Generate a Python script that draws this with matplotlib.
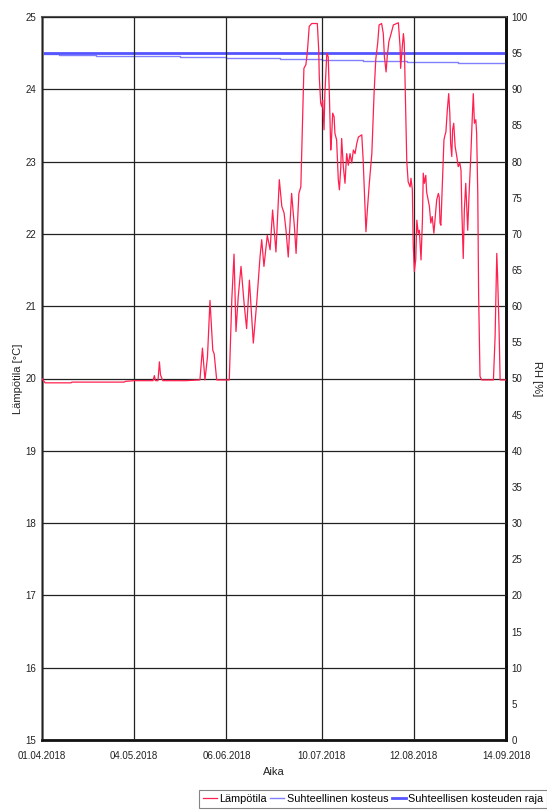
import matplotlib
matplotlib.use("Agg")
import matplotlib.pyplot as plt
import numpy as np
from datetime import datetime, timedelta

# Measurement period start
START = datetime(2018, 4, 1)

# Temperature samples: day offset from START and value in °C
temp_days = [
    0.0, 1.1, 10.4, 10.7, 29.4, 29.8, 32.9, 39.7, 40.2, 40.6, 41.5, 42.0, 42.4, 43.2,
    51.5, 56.5, 57.4, 58.3, 59.2, 60.1, 61.1, 61.6, 62.5, 67.0, 67.9, 68.7, 69.4, 70.2,
    71.2, 72.3, 73.2, 74.2, 74.8, 75.6, 76.8, 78.0, 78.6, 79.4, 80.6, 81.6, 82.5, 83.7,
    84.9, 85.8, 86.6, 87.3, 88.1, 89.3, 90.3, 90.9, 91.9, 92.6, 93.3, 93.7, 94.4, 94.9,
    95.6, 96.5, 98.5, 99.0, 99.2, 99.7, 100.1, 100.4, 100.9, 101.2, 101.9, 102.4, 102.8,
    103.3, 103.6, 104.0, 104.5, 104.8, 105.4, 106.0, 106.4, 106.9, 107.2, 107.8, 108.4,
    109.0, 109.6, 110.2, 110.8, 111.4, 112.0, 112.6, 113.2, 114.4, 114.9, 115.6, 115.9,
    116.4, 117.1, 118.0, 118.8, 119.4, 120.1, 120.6, 121.5, 122.1, 122.5, 123.1, 123.5,
    124.1, 124.9, 125.7, 127.5, 128.1, 128.3, 128.9, 129.3, 129.6, 130.0, 130.5, 131.0,
    131.7, 132.0, 132.5, 132.8, 133.2, 133.7, 134.1, 134.6, 135.0, 135.6, 136.1, 136.4,
    136.8, 137.3, 137.6, 138.6, 139.1, 139.6, 140.2, 140.6, 141.2, 141.8, 142.1, 142.4,
    142.7, 143.4, 143.8, 144.2, 144.5, 145.0, 145.5, 145.9, 146.2, 146.6, 146.9, 147.3,
    147.8, 148.4, 148.9, 149.5, 149.9, 150.2, 150.7, 151.1, 151.6, 151.9, 152.3, 152.8,
    153.4, 153.9, 154.3, 154.7, 155.2, 155.5, 155.9, 156.2, 156.7, 157.3, 161.5, 162.1,
    162.7, 163.0, 163.5, 163.9, 166.0,
]
temp_values = [
    20.00, 19.94, 19.94, 19.95, 19.95, 19.96, 19.97, 19.97, 20.04, 19.97, 19.97, 20.23, 20.05, 19.97,
    19.97, 19.98, 20.42, 19.98, 20.30, 21.08, 20.39, 20.34, 19.98, 19.98, 21.09, 21.72, 20.65, 21.13,
    21.55, 21.04, 20.69, 21.36, 20.99, 20.49, 21.04, 21.68, 21.92, 21.55, 21.98, 21.78, 22.33, 21.75,
    22.75, 22.38, 22.29, 22.05, 21.68, 22.56, 22.10, 21.73, 22.56, 22.65, 23.71, 24.29, 24.34, 24.50,
    24.87, 24.91, 24.91, 24.54, 24.17, 23.81, 23.76, 23.85, 23.44, 23.94, 24.50, 24.45, 23.94,
    23.16, 23.34, 23.67, 23.62, 23.39, 23.30, 22.75, 22.61, 22.93, 23.32, 22.93, 22.70,
    23.11, 22.95, 23.11, 22.98, 23.16, 23.11, 23.25, 23.34, 23.37, 23.02, 22.33, 22.03,
    22.33, 22.70, 23.11, 23.94, 24.41, 24.64, 24.89, 24.91, 24.77, 24.45, 24.24, 24.45,
    24.66, 24.77, 24.89, 24.92, 24.59, 24.29, 24.59, 24.77, 24.64, 23.94, 23.00, 22.72,
    22.65, 22.77, 22.61, 21.87, 21.48, 21.64, 22.19, 22.01, 22.05, 21.64, 22.19, 22.84,
    22.70, 22.81, 22.58, 22.38, 22.15, 22.24, 22.01, 22.19, 22.47, 22.56, 22.51, 22.15,
    22.12, 22.88, 23.30, 23.37, 23.41, 23.71, 23.94, 23.67, 23.25, 23.07, 23.44, 23.53,
    23.21, 23.07, 22.93, 22.98, 22.88, 22.33, 21.66, 22.33, 22.70, 22.42, 22.05, 22.56,
    23.07, 23.58, 23.94, 23.53, 23.58, 23.39, 22.56, 21.18, 20.03, 19.98, 19.98, 20.58,
    21.73, 21.41, 20.72, 19.98, 19.98,
]

# Relative humidity (stepwise) and its limit
rh_days = [0.0, 6.1, 19.3, 49.3, 66.0, 85.0, 100.0, 115.0, 130.5, 149.0, 166.0]
rh_values = [94.9, 94.7, 94.55, 94.4, 94.3, 94.15, 94.05, 93.95, 93.8, 93.7, 93.7]
rh_limit = 95.0

tick_labels = ["01.04.2018", "04.05.2018", "06.06.2018", "10.07.2018", "12.08.2018", "14.09.2018"]

temp_dates = [START + timedelta(days=d) for d in temp_days]
rh_dates = [START + timedelta(days=d) for d in rh_days]
tick_dates = [datetime.strptime(s, "%d.%m.%Y") for s in tick_labels]

plt.rcParams["font.family"] = ["Liberation Sans", "DejaVu Sans"]

W, H = 547, 811
fig = plt.figure(figsize=(W / 100, H / 100), dpi=100)
ax = fig.add_axes([42 / W, 1 - 740 / H, (506 - 42) / W, (740 - 17) / H])
ax2 = ax.twinx()

red = "#FF2050"
light_blue = "#8080FF"
blue = "#5555FF"

l1, = ax.plot(temp_dates, temp_values, color=red, lw=0.9, label="Lämpötila", zorder=4)
l2, = ax2.plot(rh_dates, rh_values, color=light_blue, lw=1.0, drawstyle="steps-post",
               label="Suhteellinen kosteus", zorder=3)
l3, = ax2.plot([tick_dates[0], tick_dates[-1]], [rh_limit, rh_limit], color=blue, lw=2.0,
               label="Suhteellisen kosteuden raja", zorder=3)
ax.set_zorder(ax2.get_zorder() + 1)
ax.patch.set_visible(False)

ax.set_xlim(tick_dates[0], tick_dates[-1])
ax.set_ylim(15, 25)
ax2.set_ylim(0, 100)

ax.set_xticks(tick_dates)
ax.set_xticklabels(tick_labels)
ax.set_yticks(np.arange(15, 26, 1))
ax2.set_yticks(np.arange(0, 101, 5))

ax.tick_params(axis="y", length=0, labelsize=7, colors="#222222", pad=4)
ax.tick_params(axis="x", length=0, labelsize=7, colors="#222222", pad=8)
ax2.tick_params(axis="y", length=0, labelsize=7, colors="#222222", pad=4)

ax.grid(True, color="#222222", lw=0.9)
ax.set_axisbelow(False)

for name, sp in ax.spines.items():
    sp.set_linewidth(2)
ax.spines["left"].set_color("#777777")
ax.spines["top"].set_color("#555555")
ax.spines["top"].set_linewidth(1.5)
ax.spines["bottom"].set_color("#111111")
ax.spines["right"].set_color("#111111")
for sp in ax2.spines.values():
    sp.set_visible(False)
ax2.spines["right"].set_visible(True)
ax2.spines["right"].set_linewidth(2)
ax2.spines["right"].set_color("#111111")

ax.set_xlabel("Aika", fontsize=8, color="#222222", labelpad=4)
ax.set_ylabel("Lämpötila [°C]", fontsize=8, color="#222222", labelpad=2)
ax2.set_ylabel("RH [%]", fontsize=8, color="#222222", rotation=270, labelpad=10)

leg = fig.legend(handles=[l1, l2, l3], loc="lower right", bbox_to_anchor=(1.0, 0.004),
                 ncol=3, fontsize=7.8, frameon=True, fancybox=False, handlelength=1.3,
                 handletextpad=0.2, columnspacing=0.35, borderpad=0.35, borderaxespad=0.0)
leg.get_frame().set_edgecolor("#666666")
leg.get_frame().set_linewidth(0.8)

fig.savefig("out.png", dpi=100)
